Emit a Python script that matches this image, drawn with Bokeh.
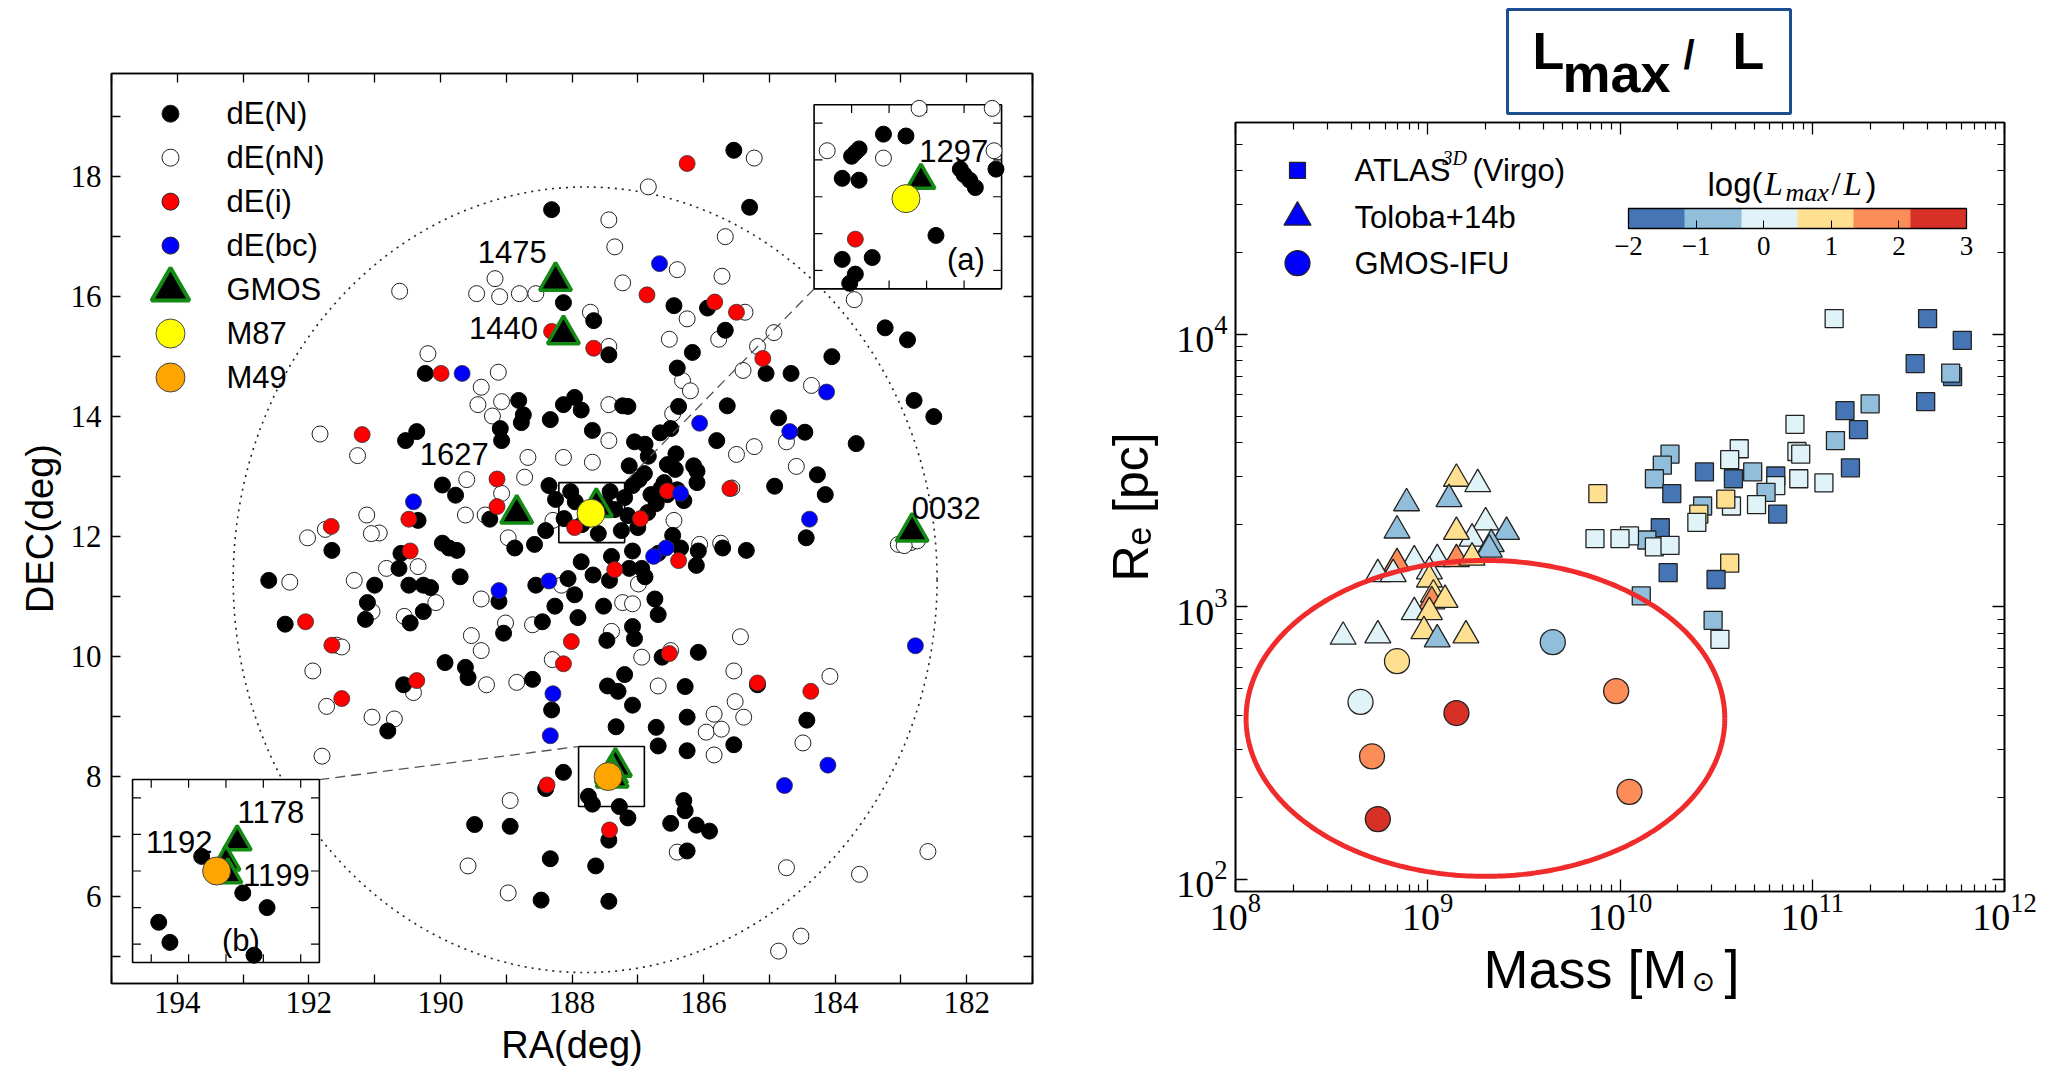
import numpy as np
from bokeh.plotting import figure
from bokeh.layouts import row, column
from bokeh.models import (Range1d, LinearAxis, LogAxis, FixedTicker, ColorBar,
                          LinearColorMapper, CustomJSTickFormatter, ColumnDataSource)
from bokeh.core.properties import value
from bokeh.embed import file_html
from bokeh.resources import INLINE

SANS = value("Liberation Sans")
SERIF = value("Liberation Serif")

# ---------------- Virgo dwarf ellipticals: sky positions (deg) ----------------
dEN_ra = [185.54, 185.30, 188.31, 188.13, 187.67, 187.44, 186.45, 185.94, 185.67, 186.17,
          183.24, 182.90, 184.05, 190.23, 186.40, 185.05, 184.67, 185.64, 186.38, 184.86,
          188.81, 188.13, 187.96, 187.86, 188.33, 188.74, 187.23, 187.15, 182.80, 182.50,
          183.68, 184.46, 184.27, 185.80, 190.53, 190.36, 189.09, 189.07, 188.77, 187.69,
          186.66, 186.89, 187.05, 186.50, 186.42, 186.84, 186.55, 186.43, 186.15, 186.10,
          187.13, 189.97, 189.77, 189.25, 188.35, 188.25, 188.02, 187.95, 187.85, 188.12,
          187.50, 187.42, 187.35, 187.20, 187.08, 186.98, 186.90, 186.80, 186.72, 186.65,
          186.60, 186.55, 186.40, 186.30, 186.10, 187.15, 187.25, 187.00, 186.85, 187.60,
          188.40, 190.34, 184.44, 184.92, 184.15, 186.08, 191.65, 190.60, 189.97, 189.87,
          188.87, 188.57, 188.55, 188.06, 187.86, 187.68, 187.40, 187.08, 186.94, 186.69,
          186.35, 186.11, 185.71, 185.35, 191.00, 190.63, 190.48, 190.26, 190.15, 189.70,
          192.61, 191.11, 191.14, 192.36, 190.46, 190.26, 189.11, 189.04, 188.45, 188.26,
          187.96, 187.91, 187.52, 187.47, 187.08, 187.05, 186.74, 186.69, 186.08, 186.63,
          189.93, 189.62, 189.58, 190.56, 188.60, 188.31, 187.46, 187.30, 187.20, 187.08,
          186.72, 186.28, 186.25, 185.18, 184.43, 190.80, 185.54, 187.33, 186.69, 186.25,
          188.13, 188.40, 189.48, 188.94, 187.75, 187.69, 187.28, 187.15, 186.50, 186.30,
          186.28, 186.11, 185.91, 187.44, 188.33, 187.64, 186.25, 188.47, 187.44, 189.75,
          187.13, 187.43, 186.89, 186.47]
dEN_dec = [18.44, 17.49, 17.45, 15.90, 15.60, 15.03, 15.85, 15.81, 15.44, 15.07,
           15.48, 15.28, 15.00, 14.72, 14.81, 14.72, 14.72, 14.18, 14.17, 13.98,
           14.27, 14.20, 14.32, 14.11, 13.95, 14.03, 14.18, 14.17, 14.27, 14.00,
           13.55, 13.74, 13.03, 13.60, 13.60, 13.75, 13.80, 13.60, 13.90, 13.77,
           13.73, 13.54, 13.58, 13.80, 13.38, 13.34, 13.20, 13.12, 13.18, 13.09,
           13.18, 12.86, 12.69, 12.29, 12.85, 12.62, 12.75, 12.58, 12.20, 12.30,
           12.55, 12.75, 12.45, 12.65, 12.85, 12.95, 13.05, 12.70, 12.55, 12.80,
           12.90, 12.70, 12.78, 12.60, 12.90, 12.35, 12.10, 12.15, 12.40, 12.05,
           12.10, 12.27, 11.98, 12.84, 12.70, 11.76, 11.77, 11.72, 11.89, 11.81,
           11.81, 11.87, 11.19, 11.30, 11.58, 11.36, 11.67, 11.76, 11.47, 11.72,
           11.81, 11.52, 11.81, 11.77, 11.19, 11.47, 11.19, 11.19, 11.15, 11.33,
           11.27, 10.90, 10.62, 10.54, 10.56, 10.75, 10.92, 10.39, 10.58, 10.84,
           11.03, 10.65, 10.84, 10.27, 10.50, 10.30, 10.96, 10.70, 10.07, 9.99,
           9.90, 9.82, 9.65, 9.53, 9.62, 9.11, 9.51, 9.42, 9.70, 9.19,
           8.82, 9.50, 8.99, 9.53, 8.94, 8.76, 8.53, 8.83, 8.51, 8.43,
           8.07, 7.80, 7.20, 7.17, 7.67, 7.54, 7.50, 7.31, 7.22, 7.60,
           7.43, 7.19, 7.09, 6.94, 6.63, 6.51, 6.76, 5.94, 5.92, 11.77,
           11.47, 11.27, 11.33, 12.02]

dEnN_ra = [185.23, 186.84, 187.44, 187.35, 185.67, 187.23, 185.72, 186.40, 183.71, 189.45,
           190.62, 189.10, 188.80, 189.17, 188.55, 186.25, 186.52, 185.77, 185.37, 187.44,
           187.72, 190.19, 184.93, 185.18, 189.12, 189.38, 189.43, 189.07, 189.21, 187.44,
           186.32, 186.20, 185.40, 184.36, 186.47, 191.83, 191.26, 188.67, 188.13, 187.69,
           187.44, 185.23, 185.50, 184.59, 184.74, 188.72, 189.60, 192.02, 191.75, 191.12,
           190.93, 191.05, 189.62, 189.32, 189.07, 188.97, 188.29, 186.06, 185.57, 186.45,
           192.29, 191.31, 190.82, 190.34, 185.74, 183.04, 182.85, 182.75, 182.95, 186.99,
           191.04, 190.55, 190.07, 189.53, 189.38, 189.01, 188.60, 188.16, 187.40, 187.23,
           187.08, 186.94, 185.44, 191.58, 191.50, 186.50, 189.38, 191.94, 191.73, 191.04,
           190.70, 190.41, 189.30, 188.84, 186.69, 185.54, 185.52, 185.39, 185.84, 185.96,
           185.73, 184.08, 185.84, 184.49, 191.80, 188.94, 189.58, 188.97, 186.40, 184.74,
           183.63, 182.59, 184.86, 184.52, 188.30]
dEnN_dec = [18.31, 17.83, 17.28, 16.83, 17.00, 16.23, 16.34, 16.45, 15.95, 16.05,
            16.09, 16.00, 16.05, 16.30, 16.05, 15.63, 15.29, 15.29, 15.74, 15.17,
            15.74, 15.05, 15.40, 15.17, 14.74, 14.49, 14.20, 14.25, 14.01, 14.20,
            14.60, 14.43, 14.77, 14.52, 14.05, 13.71, 13.35, 13.32, 13.32, 13.24,
            13.60, 13.50, 13.37, 13.17, 13.58, 12.99, 12.95, 11.98, 12.12, 12.36,
            12.06, 12.05, 12.36, 12.36, 12.72, 11.98, 12.27, 11.87, 12.81, 12.27,
            11.24, 11.27, 11.47, 11.50, 11.89, 11.87, 11.90, 11.93, 11.85, 11.21,
            10.75, 10.67, 10.90, 10.35, 10.96, 10.56, 10.53, 11.19, 10.42, 10.90,
            10.88, 9.99, 10.33, 10.19, 10.16, 10.10, 10.10, 9.76, 9.17, 8.99,
            8.96, 9.40, 9.53, 9.57, 9.51, 9.76, 9.25, 8.99, 9.04, 8.74,
            8.79, 9.67, 8.36, 8.56, 8.34, 7.60, 6.51, 6.06, 6.74, 6.48,
            6.37, 6.75, 5.09, 5.34, 9.95]

dEi_ra = [186.25, 186.86, 188.31, 187.67, 185.83, 185.50, 185.10, 189.99, 191.19, 189.14,
          190.48, 189.14, 187.96, 186.96, 186.55, 185.60, 191.66, 190.46, 187.35, 186.38,
          192.05, 191.65, 188.01, 188.13, 186.52, 190.36, 185.18, 184.37, 188.38, 187.43,
          191.50]
dEi_dec = [18.22, 16.03, 15.42, 15.14, 15.91, 15.74, 14.97, 14.72, 13.70, 12.96,
           12.29, 12.50, 12.15, 12.30, 12.76, 12.80, 12.17, 11.76, 11.45, 11.60,
           10.58, 10.19, 10.25, 9.88, 10.05, 9.60, 9.56, 9.42, 7.86, 7.11,
           9.30]

dEbc_ra = [186.67, 189.67, 184.13, 186.06, 184.69, 190.41, 186.35, 184.39, 186.76, 186.57,
           189.11, 188.35, 182.78, 188.29, 188.33, 184.11, 184.77]
dEbc_dec = [16.55, 14.72, 14.41, 13.89, 13.75, 12.58, 12.72, 12.29, 11.67, 11.81,
            11.10, 11.26, 10.18, 9.38, 8.68, 8.19, 7.85]

gmos_name = ["1475", "1440", "1627", "0032", "1297", "1178", "1192", "1199"]
gmos_ra = [188.25, 188.13, 188.84, 182.83, 187.63, 187.34, 187.40, 187.39]
gmos_dec = [16.26, 15.37, 12.38, 12.08, 12.49, 8.16, 8.05, 7.98]

m87_ra, m87_dec = [187.71], [12.39]
m49_ra, m49_dec = [187.45], [8.00]

# zoom (a): objects around M87
ina_black_ra = [187.83, 187.71, 188.00, 187.98, 187.96, 188.05, 187.96, 187.42, 187.40, 187.37,
                187.34, 187.55, 188.05, 187.89, 187.98, 188.01, 187.23]
ina_black_dec = [12.74, 12.73, 12.62, 12.64, 12.66, 12.50, 12.49, 12.55, 12.52, 12.49,
                 12.45, 12.19, 12.06, 12.07, 11.98, 11.93, 12.55]
ina_open_ra = [188.13, 187.83, 187.64, 187.25, 187.24]
ina_open_dec = [12.65, 12.61, 12.88, 12.88, 12.65]
ina_red_ra, ina_red_dec = [187.98], [12.17]

# zoom (b): objects around M49
inb_black_ra = [187.53, 187.31, 187.18, 187.76, 187.70, 187.25]
inb_black_dec = [8.08, 7.88, 7.80, 7.72, 7.61, 7.54]

legend_names = ["dE(N)", "dE(nN)", "dE(i)", "dE(bc)", "GMOS", "M87", "M49"]

# ---------------- size-mass relation coloured by log(Lmax/L) ----------------
atlas_mass = [1.30e11, 3.98e11, 6.03e11, 3.43e11, 5.37e11, 5.25e11, 3.89e11, 2.00e11, 1.48e11, 1.74e11,
              8.13e10, 1.32e11, 1.58e11, 1.15e11, 8.32e10, 8.71e10, 8.51e10, 4.17e10, 3.72e10, 4.90e10,
              6.46e10, 6.46e10, 5.75e10, 5.13e10, 3.80e10, 3.55e10, 3.89e10, 2.75e10, 2.69e10, 2.57e10,
              2.51e10, 6.61e10, 1.82e10, 1.66e10, 1.51e10, 1.86e10, 1.62e10, 1.38e10, 1.51e10, 1.82e10,
              1.12e10, 1.00e10, 7.41e9, 7.67e9, 1.78e10, 1.29e10, 3.72e10, 3.16e10, 3.05e10, 3.31e10]
atlas_re = [11430, 11430, 9506, 7816, 7000, 7211, 5662, 5559, 5248, 4467,
            4677, 4074, 3236, 2851, 3715, 3631, 2951, 3802, 3467, 3126,
            3020, 2786, 2630, 2371, 2344, 2483, 2951, 3126, 2344, 2188,
            2042, 2188, 3631, 3311, 2951, 2600, 1950, 1758, 1660, 1679,
            1820, 1778, 1778, 2600, 1334, 1096, 1445, 1259, 891, 759]
atlas_lr = [0.0, -1.6, -1.6, -1.6, -1.6, -0.8, -1.6, -0.8, -1.6, -1.6,
            0.0, -0.8, -1.6, 0.0, 0.0, 0.0, 0.0, 0.0, 0.0, -0.8,
            -1.6, 0.0, -0.8, 0.0, 0.0, 0.9, -1.6, -1.6, -0.8, 0.9,
            0.0, -1.6, -0.8, -0.8, -0.8, -1.6, -1.6, -0.8, 0.0, 0.0,
            0.0, 0.0, 0.0, 0.9, -1.6, -0.8, 0.9, -1.6, -0.8, 0.0]

toloba_mass = [1.41e9, 1.82e9, 1.29e9, 7.76e8, 6.92e8, 2.00e9, 2.57e9, 1.70e9, 1.41e9, 2.14e9,
               2.09e9, 8.51e8, 6.92e8, 5.50e8, 6.61e8, 1.12e9, 1.41e9, 1.02e9, 1.02e9, 1.70e9,
               1.07e9, 1.05e9, 1.23e9, 8.51e8, 1.02e9, 9.55e8, 1.12e9, 1.58e9, 5.50e8, 3.63e8]
toloba_re = [2951, 2818, 2483, 2399, 1905, 2042, 1884, 1778, 1884, 1698,
             1622, 1479, 1445, 1318, 1318, 1496, 1496, 1349, 1259, 1514,
             1109, 1047, 1059, 955, 955, 813, 759, 785, 785, 776]
toloba_lr = [0.9, 0.0, -0.8, -0.8, -0.8, 0.0, -0.8, 0.0, 0.9, -0.8,
             -0.8, 0.0, 1.75, 0.0, 0.0, 0.0, 1.75, 0.0, 0.9, 0.9,
             0.9, 1.75, 0.9, 0.0, 0.9, 0.9, -0.8, 0.9, 0.0, 0.0]

ifu_mass = [4.47e9, 6.92e8, 4.47e8, 1.41e9, 9.55e9, 5.13e8, 1.12e10, 5.50e8]
ifu_re = [741, 631, 447, 407, 490, 282, 209, 166]
ifu_lr = [-0.8, 0.9, 0.0, 2.6, 1.75, 1.75, 1.75, 2.6]

lr_palette = ["#4575b4", "#91bfdb", "#e0f3f8", "#fee090", "#fc8d59", "#d73027"]
lr_ticks = [-2, -1, 0, 1, 2, 3]


def style_axis(ax, tick_in, minor_in=0):
    ax.major_tick_in = tick_in
    ax.major_tick_out = 0
    ax.minor_tick_out = 0
    if minor_in:
        ax.minor_tick_in = minor_in
        ax.minor_tick_line_width = 1.2
        ax.minor_tick_line_color = "black"
    else:
        ax.minor_tick_line_color = None
    ax.major_tick_line_width = 1.3
    ax.major_tick_line_color = "black"
    ax.axis_line_width = 1.6
    ax.axis_line_color = "black"
    ax.major_label_text_color = "black"
    ax.axis_label_text_color = "black"


blank = CustomJSTickFormatter(code="return ''")

# ================= left panel: sky map =================
p1 = figure(width=1100, height=1069, x_range=Range1d(195, 181), y_range=Range1d(4.55, 19.72),
            output_backend="svg", toolbar_location=None,
            min_border_left=111, min_border_right=68, min_border_top=73, min_border_bottom=86)
p1.grid.visible = False
p1.outline_line_color = "black"
p1.outline_line_width = 1.6


def sky_at(px, py):
    return 195 - (px - 111) / 65.8, 18 - (py - 176) / 60.0


ra_ticks = FixedTicker(ticks=list(range(181, 196)))
dec_ticks = FixedTicker(ticks=list(range(5, 20)))
ax_b, ax_l = p1.below[0], p1.left[0]
ax_b.ticker = ra_ticks
ax_b.major_label_overrides = {t: "" for t in range(181, 196) if t % 2}
ax_l.ticker = dec_ticks
ax_l.major_label_overrides = {t: "" for t in range(5, 20) if t % 2}
for ax in (ax_b, ax_l):
    style_axis(ax, 9)
    ax.major_label_text_font = "Liberation Serif"
    ax.major_label_text_font_size = "31px"
    ax.axis_label_text_font = "Liberation Sans"
    ax.axis_label_text_font_size = "38px"
    ax.axis_label_text_font_style = "normal"
ax_b.axis_label = "RA(deg)"
ax_b.major_label_standoff = 8
ax_b.axis_label_standoff = 8
ax_l.axis_label = "DEC(deg)"
ax_l.major_label_standoff = 10
ax_l.axis_label_standoff = 7
p1.add_layout(LinearAxis(ticker=ra_ticks, formatter=blank, major_label_standoff=0), "above")
p1.add_layout(LinearAxis(ticker=dec_ticks, formatter=blank, major_label_standoff=0), "right")
style_axis(p1.above[0], 9)
style_axis(p1.right[0], 9)

# dotted ring around the cluster core
ring_ra, ring_dec, ring_w, ring_h = 187.8, 11.28, 10.7, 13.1
p1.ellipse(x=[ring_ra], y=[ring_dec], width=[ring_w], height=[ring_h], fill_color=None,
           line_color="#222222", line_width=1.6, line_dash="2 5")

mk = 16
p1.scatter(dEnN_ra, dEnN_dec, size=mk, fill_color="white", line_color="#222222", line_width=1)
p1.scatter(dEN_ra, dEN_dec, size=mk, fill_color="black", line_color="black")
p1.scatter(dEi_ra, dEi_dec, size=mk, fill_color="#ff0000", line_color="#333333", line_width=0.8)
p1.scatter(dEbc_ra, dEbc_dec, size=mk, fill_color="#0000ff", line_color="#333333", line_width=0.8)
p1.scatter(gmos_ra, gmos_dec, marker="triangle", size=32, fill_color="black",
           line_color="#138a13", line_width=3.5)
p1.scatter(m87_ra, m87_dec, size=28, fill_color="#ffff00", line_color="#444444", line_width=1)
p1.scatter(m49_ra, m49_dec, size=28, fill_color="#ffa500", line_color="#444444", line_width=1)
p1.text(x=[188.91, 189.04, 189.79, 182.31], y=[16.75, 15.48, 13.38, 12.48], text=gmos_name[:4],
        text_font=SANS, text_font_size="31px", text_align="center", text_baseline="middle")

# boxes around the two giants and their zoom panels
box_a = (188.2, 187.2, 11.9, 12.9)
box_b = (187.9, 186.9, 7.5, 8.5)
panel_a = (184.32, 181.47, 16.13, 19.2)
panel_b = (194.68, 191.84, 4.9, 7.95)
for bx in (box_a, box_b):
    p1.quad(left=bx[0], right=bx[1], bottom=bx[2], top=bx[3], fill_color=None,
            line_color="black", line_width=1.6)
p1.segment(x0=[panel_a[0], panel_b[1]], y0=[panel_a[2], panel_b[3]],
           x1=[box_a[1], box_b[0]], y1=[box_a[3], box_b[3]],
           line_color="#555555", line_width=1.3, line_dash="10 6")
for pn in (panel_a, panel_b):
    p1.quad(left=pn[0], right=pn[1], bottom=pn[2], top=pn[3], fill_color="white",
            line_color="black", line_width=1.6)


def zoom_panel(bx, pn):
    sub = p1.subplot(x_source=Range1d(bx[0], bx[1]), y_source=Range1d(bx[2], bx[3]),
                     x_target=Range1d(pn[0], pn[1]), y_target=Range1d(pn[2], pn[3]))
    tl = 0.045
    xs = [t / 10 for t in range(int(round(bx[1] * 10)) + 1, int(round(bx[0] * 10)))
          if t % 2 == 0]
    ys = [t / 10 for t in range(int(round(bx[2] * 10)) + 1, int(round(bx[3] * 10)))
          if t % 2 == 0]
    sub.segment(x0=xs + xs, y0=[bx[3]] * len(xs) + [bx[2]] * len(xs),
                x1=xs + xs, y1=[bx[3] - tl] * len(xs) + [bx[2] + tl] * len(xs),
                line_color="black", line_width=1.2)
    sub.segment(x0=[bx[0]] * len(ys) + [bx[1]] * len(ys), y0=ys + ys,
                x1=[bx[0] - tl] * len(ys) + [bx[1] + tl] * len(ys), y1=ys + ys,
                line_color="black", line_width=1.2)
    return sub


za = zoom_panel(box_a, panel_a)
za.scatter(ina_open_ra, ina_open_dec, size=mk, fill_color="white", line_color="#222222", line_width=1)
za.scatter(ina_black_ra, ina_black_dec, size=mk, fill_color="black", line_color="black")
za.scatter(ina_red_ra, ina_red_dec, size=mk, fill_color="#ff0000", line_color="#333333", line_width=0.8)
za.scatter(gmos_ra[4:5], gmos_dec[4:5], marker="triangle", size=28, fill_color="black",
           line_color="#138a13", line_width=3.5)
za.scatter(m87_ra, m87_dec, size=28, fill_color="#ffff00", line_color="#444444", line_width=1)
za.text(x=[187.455, 187.39], y=[12.65, 12.06], text=[gmos_name[4], "(a)"], text_font=SANS,
        text_font_size="31px", text_align="center", text_baseline="middle")

zb = zoom_panel(box_b, panel_b)
zb.scatter(inb_black_ra, inb_black_dec, size=mk, fill_color="black", line_color="black")
zb.scatter(gmos_ra[5:], gmos_dec[5:], marker="triangle", size=28, fill_color="black",
           line_color="#138a13", line_width=3.5)
zb.scatter(m49_ra, m49_dec, size=28, fill_color="#ffa500", line_color="#444444", line_width=1)
zb.text(x=[187.16, 187.65, 187.13, 187.32], y=[8.32, 8.16, 7.98, 7.62],
        text=[gmos_name[5], gmos_name[6], gmos_name[7], "(b)"], text_font=SANS,
        text_font_size="31px", text_align="center", text_baseline="middle")

# legend
lg_x, lg_top = sky_at(170, 113)
lg_tx, _ = sky_at(226, 113)
lg_step = 0.733
lg_y = [lg_top - i * lg_step for i in range(len(legend_names))]
p1.scatter([lg_x] * 4, lg_y[:4], size=17, fill_color=["black", "white", "#ff0000", "#0000ff"],
           line_color="#222222", line_width=1)
p1.scatter([lg_x], lg_y[4:5], marker="triangle", size=38, fill_color="black",
           line_color="#138a13", line_width=4)
p1.scatter([lg_x] * 2, lg_y[5:], size=29, fill_color=["#ffff00", "#ffa500"],
           line_color="#444444", line_width=1)
p1.text(x=[lg_tx] * len(legend_names), y=lg_y, text=legend_names, text_font=SANS,
        text_font_size="31px", text_align="left", text_baseline="middle")

# ================= right column =================
RB_L, RB_R = 135, 48          # side borders shared by the right-hand figures
FX0, FX1 = 1235, 2004         # horizontal extent of the right frame on the page

# header box
pt = figure(width=952, height=116, x_range=Range1d(FX0, FX1), y_range=Range1d(116, 0),
            output_backend="svg", toolbar_location=None,
            min_border_left=RB_L, min_border_right=RB_R, min_border_top=0, min_border_bottom=0,
            x_axis_location=None, y_axis_location=None)
pt.outline_line_color = None
pt.grid.visible = False
pt.quad(left=[1507], right=[1790], top=[9], bottom=[113], fill_color="white",
        line_color="#1c4f8f", line_width=3)
pt.text(x=[1532, 1732], y=[50, 50], text=["L", "L"], text_font=SANS, text_font_style="bold",
        text_font_size="52px", text_baseline="middle")
pt.text(x=[1562], y=[72], text=["max"], text_font=SANS, text_font_style="bold",
        text_font_size="54px", text_baseline="middle")
pt.text(x=[1683], y=[54], text=["/"], text_font=SANS, text_font_style="bold",
        text_font_size="40px", text_baseline="middle")

# size vs mass
y_lo, y_hi = 90, 6e4
p2 = figure(width=952, height=820, x_axis_type="log", y_axis_type="log",
            x_range=Range1d(1e8, 1e12), y_range=Range1d(y_lo, y_hi),
            output_backend="svg", toolbar_location=None,
            min_border_left=RB_L, min_border_right=RB_R, min_border_top=6, min_border_bottom=45)
p2.grid.visible = False
p2.outline_line_color = "black"
p2.outline_line_width = 1.6


def mr_at(px, py):
    return (10 ** (8 + (px - 1235) / 192.25),
            10 ** (np.log10(y_hi) - (py - 122) / 273.0))


mass_ticks = FixedTicker(ticks=[10.0 ** e for e in range(8, 13)],
                         minor_ticks=[k * 10.0 ** e for e in range(8, 12) for k in range(2, 10)])
re_ticks = FixedTicker(ticks=[10.0 ** e for e in range(2, 5)],
                       minor_ticks=[k * 10.0 ** e for e in range(1, 5) for k in range(2, 10)])
ax_mb, ax_ml = p2.below[0], p2.left[0]
ax_mb.ticker = mass_ticks
ax_ml.ticker = re_ticks
for ax in (ax_mb, ax_ml):
    style_axis(ax, 12, 7)
    ax.major_label_text_font = "Liberation Serif"
    ax.major_label_text_font_size = "38px"
ax_mb.major_label_standoff = 2
ax_ml.major_label_standoff = 8
ax_ml.axis_label = "R\u2091 [pc]"
ax_ml.axis_label_text_font = "Liberation Sans"
ax_ml.axis_label_text_font_size = "50px"
ax_ml.axis_label_text_font_style = "normal"
ax_ml.axis_label_standoff = 14
p2.add_layout(LogAxis(ticker=mass_ticks, formatter=blank, major_label_standoff=0), "above")
p2.add_layout(LogAxis(ticker=re_ticks, formatter=blank, major_label_standoff=0), "right")
style_axis(p2.above[0], 12, 7)
style_axis(p2.right[0], 12, 7)

mapper = LinearColorMapper(palette=lr_palette, low=lr_ticks[0], high=lr_ticks[-1])
src_a = ColumnDataSource(dict(m=atlas_mass, r=atlas_re, c=atlas_lr))
src_t = ColumnDataSource(dict(m=toloba_mass, r=toloba_re, c=toloba_lr))
src_i = ColumnDataSource(dict(m=ifu_mass, r=ifu_re, c=ifu_lr))
p2.scatter("m", "r", source=src_a, marker="square", size=18,
           fill_color={"field": "c", "transform": mapper}, line_color="#222222", line_width=1.3)
p2.scatter("m", "r", source=src_t, marker="triangle", size=26,
           fill_color={"field": "c", "transform": mapper}, line_color="#222222", line_width=1.3)
p2.scatter("m", "r", source=src_i, marker="circle", size=25,
           fill_color={"field": "c", "transform": mapper}, line_color="#222222", line_width=1.3)

# highlighted low-mass GMOS-IFU region
ring_logm, ring_logr, ring_am, ring_ar = 9.30, 2.59, 1.245, 0.58
tt = np.linspace(0, 2 * np.pi, 361)
p2.line(10 ** (ring_logm + ring_am * np.cos(tt)), 10 ** (ring_logr + ring_ar * np.sin(tt)),
        line_color="#ef2b2b", line_width=5)

# legend
leg_rows = [mr_at(1297, y) for y in (170, 217, 263)]
p2.scatter([leg_rows[0][0]], [leg_rows[0][1]], marker="square", size=16, fill_color="#0000ff",
           line_color="#222222", line_width=1.2)
p2.scatter([leg_rows[1][0]], [leg_rows[1][1]], marker="triangle", size=27, fill_color="#0000ff",
           line_color="#222222", line_width=1.2)
p2.scatter([leg_rows[2][0]], [leg_rows[2][1]], marker="circle", size=25, fill_color="#0000ff",
           line_color="#222222", line_width=1.2)
tx = mr_at(1354, 0)[0]
p2.text(x=[tx] * 3, y=[r[1] for r in leg_rows], text=["ATLAS", "Toloba+14b", "GMOS-IFU"],
        text_font=SANS, text_font_size="31px", text_align="left", text_baseline="middle")
sup = mr_at(1442, 158)
p2.text(x=[sup[0]], y=[sup[1]], text=["3D"], text_font=SERIF, text_font_style="italic",
        text_font_size="20px", text_align="left", text_baseline="middle")
vir = mr_at(1472, 170)
p2.text(x=[vir[0]], y=[vir[1]], text=["(Virgo)"], text_font=SANS, text_font_size="31px",
        text_align="left", text_baseline="middle")

# colour bar
cb = ColorBar(color_mapper=mapper, orientation="horizontal", width=338, height=20,
              location=(393, 634), padding=0, ticker=FixedTicker(ticks=lr_ticks),
              major_label_overrides={-2: "\u22122", -1: "\u22121"},
              major_label_text_font="Liberation Serif", major_label_text_font_size="27px",
              major_label_text_color="black",
              bar_line_color="black", bar_line_width=1.3, major_tick_line_color="black",
              major_tick_in=8, major_tick_out=0, label_standoff=8,
              background_fill_alpha=0, border_line_color=None)
p2.add_layout(cb)
cb_title = [("log(", 1707, 33, SANS, "normal", 184), ("L", 1764, 33, SERIF, "italic", 184),
            ("max", 1785, 26, SERIF, "italic", 192), ("/", 1831, 33, SERIF, "normal", 184),
            ("L", 1843, 33, SERIF, "italic", 184), (")", 1865, 33, SANS, "normal", 184)]
for txt, px, fs, fnt, sty, py in cb_title:
    q = mr_at(px, py)
    p2.text(x=[q[0]], y=[q[1]], text=[txt], text_font=fnt, text_font_style=sty,
            text_font_size=f"{fs}px", text_align="left", text_baseline="middle")

# x-axis title strip
pm = figure(width=952, height=133, x_range=Range1d(FX0, FX1), y_range=Range1d(1069, 936),
            output_backend="svg", toolbar_location=None,
            min_border_left=RB_L, min_border_right=RB_R, min_border_top=0, min_border_bottom=0,
            x_axis_location=None, y_axis_location=None)
pm.outline_line_color = None
pm.grid.visible = False
pm.text(x=[1483, 1724], y=[968, 968], text=["Mass [M", "]"], text_font=SANS,
        text_font_size="54px", text_baseline="middle")
pm.text(x=[1691], y=[981], text=["\u2299"], text_font=value("DejaVu Sans"),
        text_font_size="28px", text_baseline="middle")

layout = row(p1, column(pt, p2, pm))
open("out.html", "w").write(file_html(layout, INLINE))
